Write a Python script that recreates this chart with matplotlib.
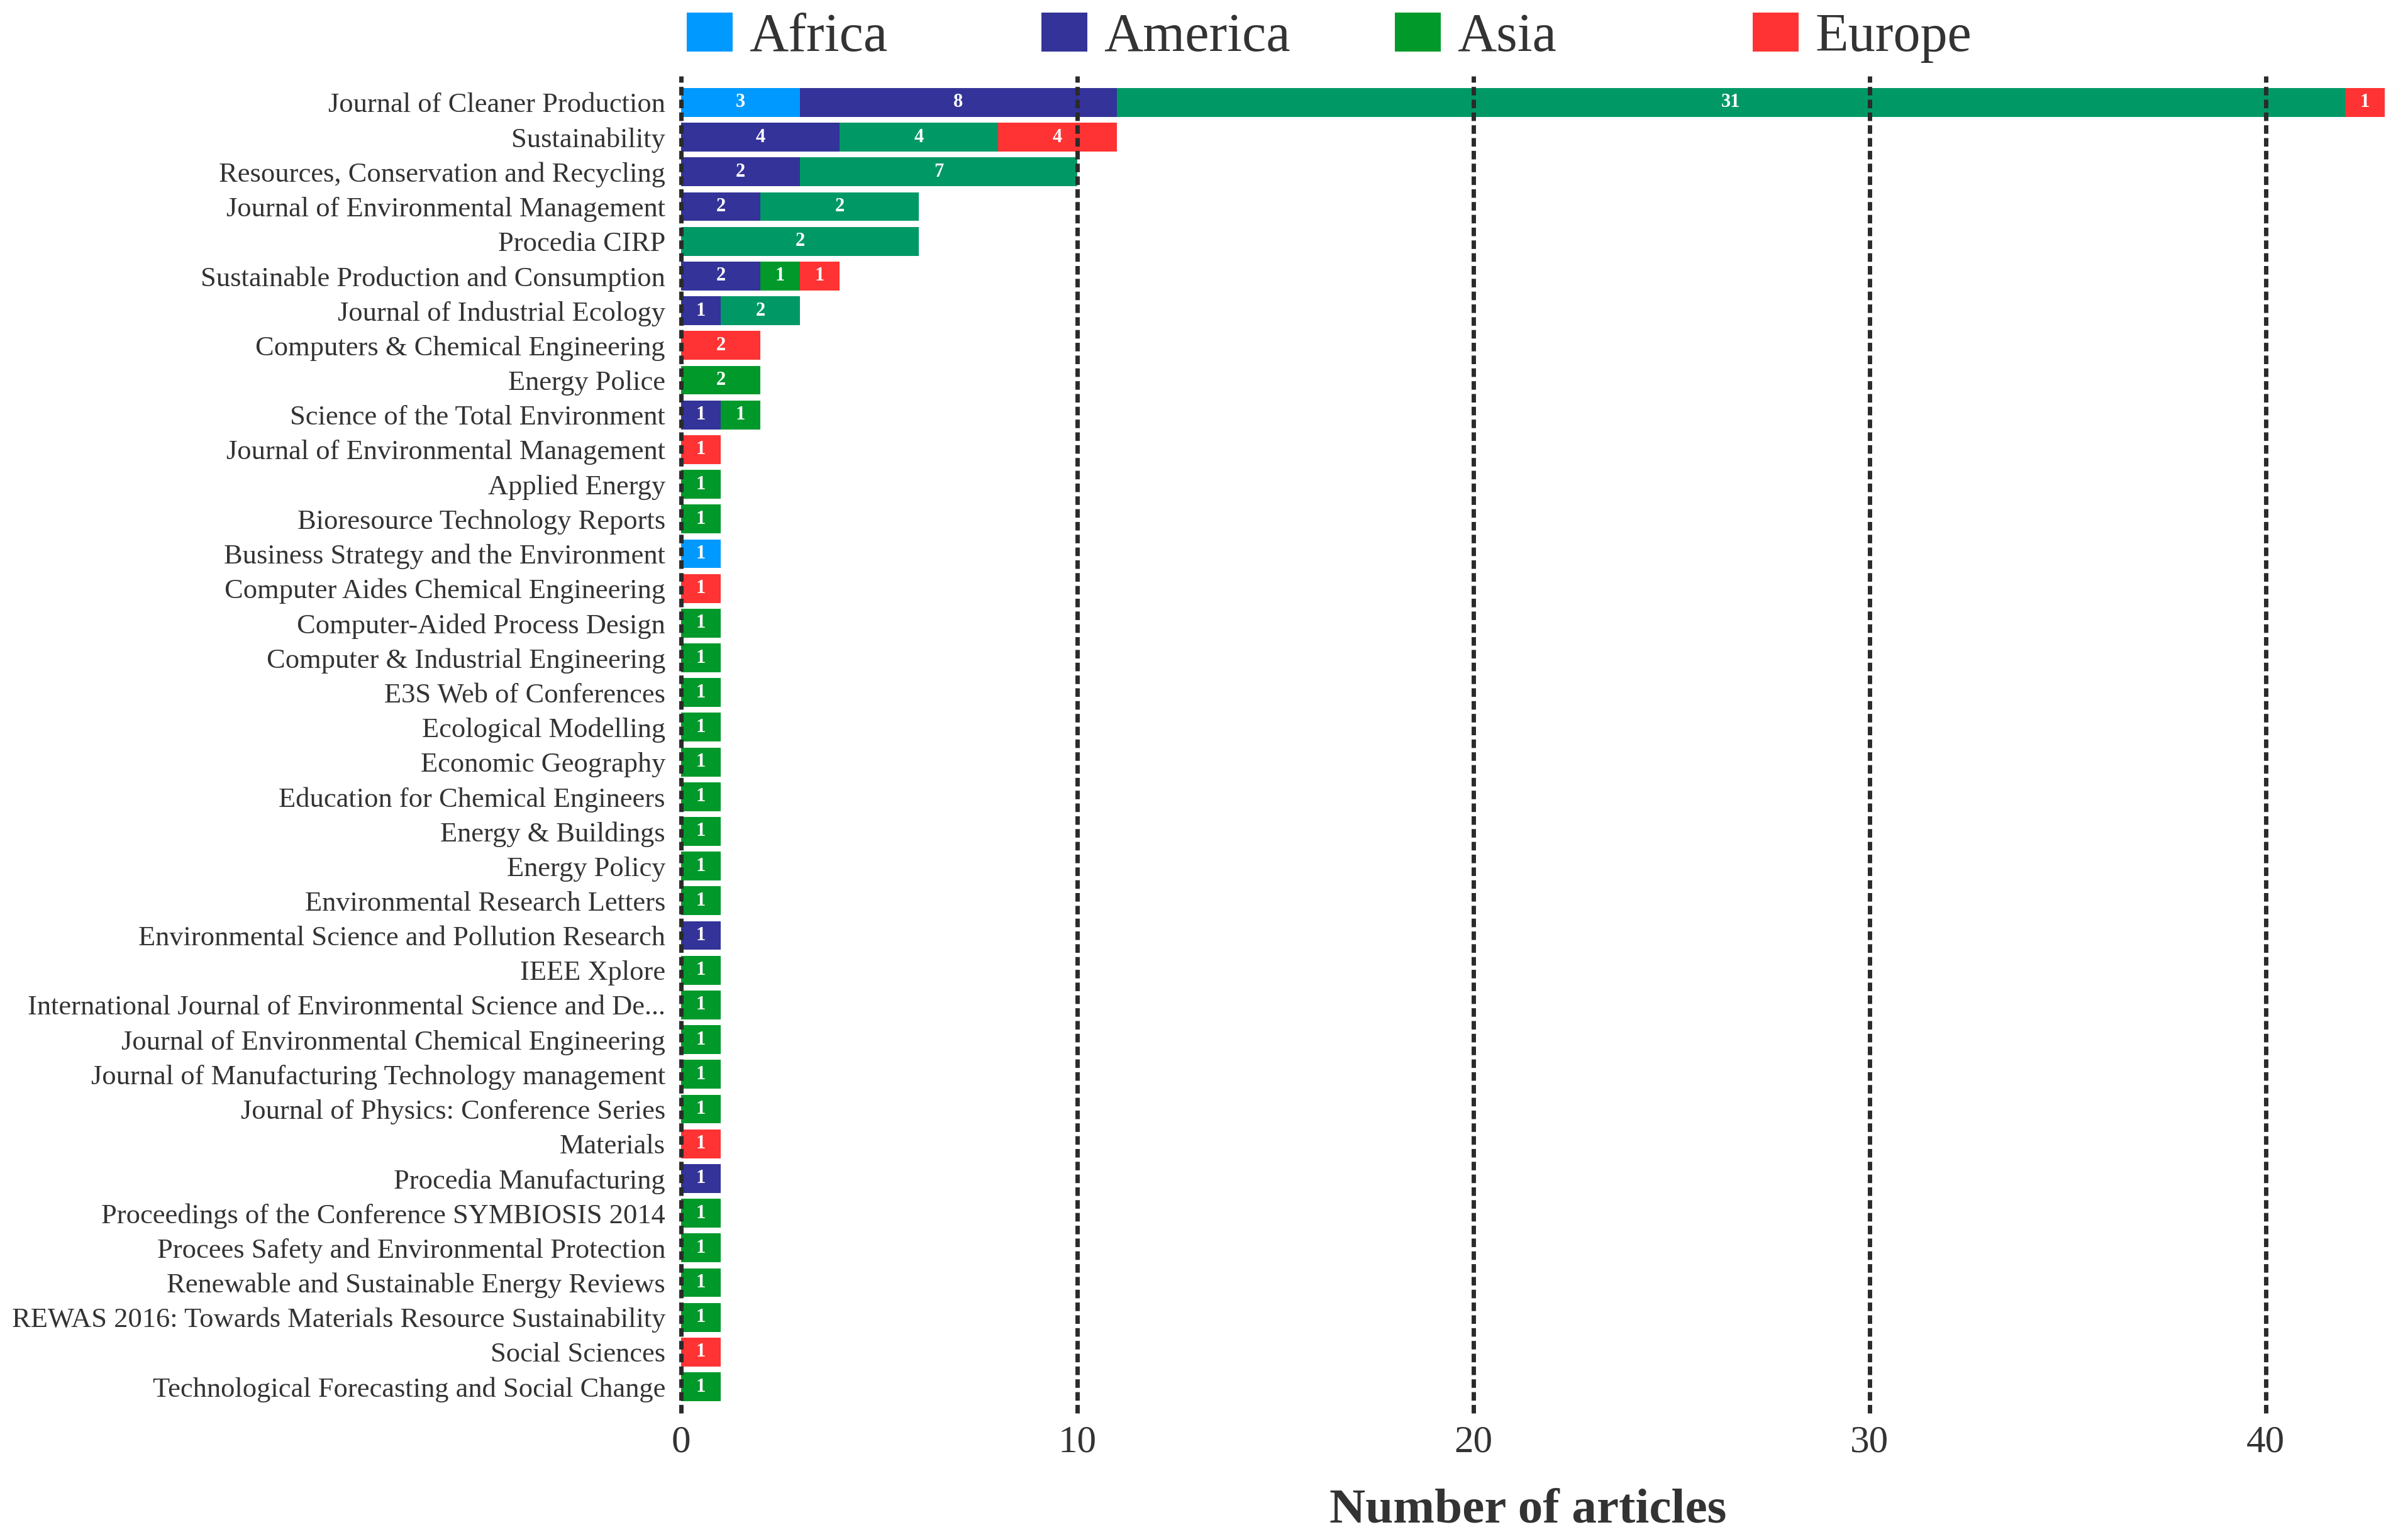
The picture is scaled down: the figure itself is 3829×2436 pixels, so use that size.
import numpy as np
import matplotlib
matplotlib.use("Agg")
import matplotlib.pyplot as plt
from matplotlib.patches import Patch

plt.rcParams["font.family"] = ["Liberation Serif", "DejaVu Serif"]

# ---------------------------------------------------------------
# data (journals top -> bottom, widths of the stacked segments)
# ---------------------------------------------------------------
journals = [
    "Journal of Cleaner Production",
    "Sustainability",
    "Resources, Conservation and Recycling",
    "Journal of Environmental Management",
    "Procedia CIRP",
    "Sustainable Production and Consumption",
    "Journal of Industrial Ecology",
    "Computers & Chemical Engineering",
    "Energy Police",
    "Science of the Total Environment",
    "Journal of Environmental Management",
    "Applied Energy",
    "Bioresource Technology Reports",
    "Business Strategy and the Environment",
    "Computer Aides Chemical Engineering",
    "Computer-Aided Process Design",
    "Computer & Industrial Engineering",
    "E3S Web of Conferences",
    "Ecological Modelling",
    "Economic Geography",
    "Education for Chemical Engineers",
    "Energy & Buildings",
    "Energy Policy",
    "Environmental Research Letters",
    "Environmental Science and Pollution Research",
    "IEEE Xplore",
    "International Journal of Environmental Science and De...",
    "Journal of Environmental Chemical Engineering",
    "Journal of Manufacturing Technology management",
    "Journal of Physics: Conference Series",
    "Materials",
    "Procedia Manufacturing",
    "Proceedings of the Conference SYMBIOSIS 2014",
    "Procees Safety and Environmental Protection",
    "Renewable and Sustainable Energy Reviews",
    "REWAS 2016: Towards Materials Resource Sustainability",
    "Social Sciences",
    "Technological Forecasting and Social Change",
]

africa = [3, 0, 0, 0, 0, 0, 0, 0, 0, 0,
          0, 0, 0, 1, 0, 0, 0, 0, 0, 0,
          0, 0, 0, 0, 0, 0, 0, 0, 0, 0,
          0, 0, 0, 0, 0, 0, 0, 0]
america = [8, 4, 3, 2, 0, 2, 1, 0, 0, 1,
           0, 0, 0, 0, 0, 0, 0, 0, 0, 0,
           0, 0, 0, 0, 1, 0, 0, 0, 0, 0,
           0, 1, 0, 0, 0, 0, 0, 0]
asia_main = [31, 4, 7, 4, 6, 0, 2, 0, 0, 0,
             0, 0, 0, 0, 0, 0, 0, 0, 0, 0,
             0, 0, 0, 0, 0, 0, 0, 0, 0, 0,
             0, 0, 0, 0, 0, 0, 0, 0]
asia_other = [0, 0, 0, 0, 0, 1, 0, 0, 2, 1,
              0, 1, 1, 0, 0, 1, 1, 1, 1, 1,
              1, 1, 1, 1, 0, 1, 1, 1, 1, 1,
              0, 0, 1, 1, 1, 1, 0, 1]
europe = [1, 3, 0, 0, 0, 1, 0, 2, 0, 0,
          1, 0, 0, 0, 1, 0, 0, 0, 0, 0,
          0, 0, 0, 0, 0, 0, 0, 0, 0, 0,
          1, 0, 0, 0, 0, 0, 1, 0]

# counts printed on the bars where they differ from the drawn width
printed = {
    ("america", 2): "2",
    ("asia_main", 3): "2",
    ("asia_main", 4): "2",
    ("europe", 1): "4",
}

regions = ["Africa", "America", "Asia", "Europe"]

# ---------------------------------------------------------------
# style
# ---------------------------------------------------------------
C_AFRICA = "#0099FF"
C_AMERICA = "#333399"
C_ASIA = "#00992A"
C_ASIA_MAIN = "#009966"
C_EUROPE = "#FF3333"
TXT = "#333333"

series = [
    ("africa", africa, C_AFRICA),
    ("america", america, C_AMERICA),
    ("asia_main", asia_main, C_ASIA_MAIN),
    ("asia_other", asia_other, C_ASIA),
    ("europe", europe, C_EUROPE),
]

W, H, DPI = 3830, 2436, 100
fig = plt.figure(figsize=(W / DPI, H / DPI), dpi=DPI)
ax = fig.add_axes([1083 / W, 1 - 2247 / H, 2740 / W, (2247 - 121) / H])

y = np.arange(len(journals))
left = np.zeros(len(journals))
for key, vals, col in series:
    vals = np.array(vals, dtype=float)
    ax.barh(y, vals, left=left, height=0.83, color=col, zorder=2)
    for i, v in enumerate(vals):
        if v > 0:
            txt = printed.get((key, i), str(int(v)))
            ax.text(left[i] + v / 2, i, txt, ha="center", va="center",
                    color="white", fontsize=22, fontweight="bold", zorder=4)
    left += vals

for xv in [0, 10, 20, 30, 40]:
    ax.axvline(xv, color="#2b2b2b", linewidth=5, linestyle=(0, (1.96, 0.97)),
               zorder=3, clip_on=False)

ax.set_xlim(0, 43.5)
ax.set_ylim(len(journals) - 1 + 0.76, -0.76)
ax.set_yticks(y)
ax.set_yticklabels(journals, fontsize=32, color=TXT)
ax.set_xticks([0, 10, 20, 30, 40])
ax.set_xticklabels(["0", "10", "20", "30", "40"], fontsize=44, color=TXT)
ax.tick_params(axis="y", length=0, pad=18)
ax.tick_params(axis="x", length=0, pad=14)
for s in ax.spines.values():
    s.set_visible(False)

ax.set_xlabel("Number of articles", fontsize=57, fontweight="bold",
              color=TXT)
ax.xaxis.set_label_coords((2430 - 1083) / 2740, -0.056)
ax.xaxis.label.set_verticalalignment("top")

# legend: one entry per region, evenly spaced along the top
leg_x = [1092, 1656, 2218, 2787]
leg_cols = [C_AFRICA, C_AMERICA, C_ASIA, C_EUROPE]
for name, col, px in zip(regions, leg_cols, leg_x):
    fig.legend(handles=[Patch(facecolor=col, edgecolor="none", label=name)],
               loc="center left", bbox_to_anchor=(px / W, 1 - 60 / H),
               frameon=False, fontsize=62, borderpad=0, borderaxespad=0,
               handlelength=0.85, handleheight=0.73, handletextpad=0.3,
               labelcolor=TXT)

fig.savefig("out.png", dpi=DPI, facecolor="white")
